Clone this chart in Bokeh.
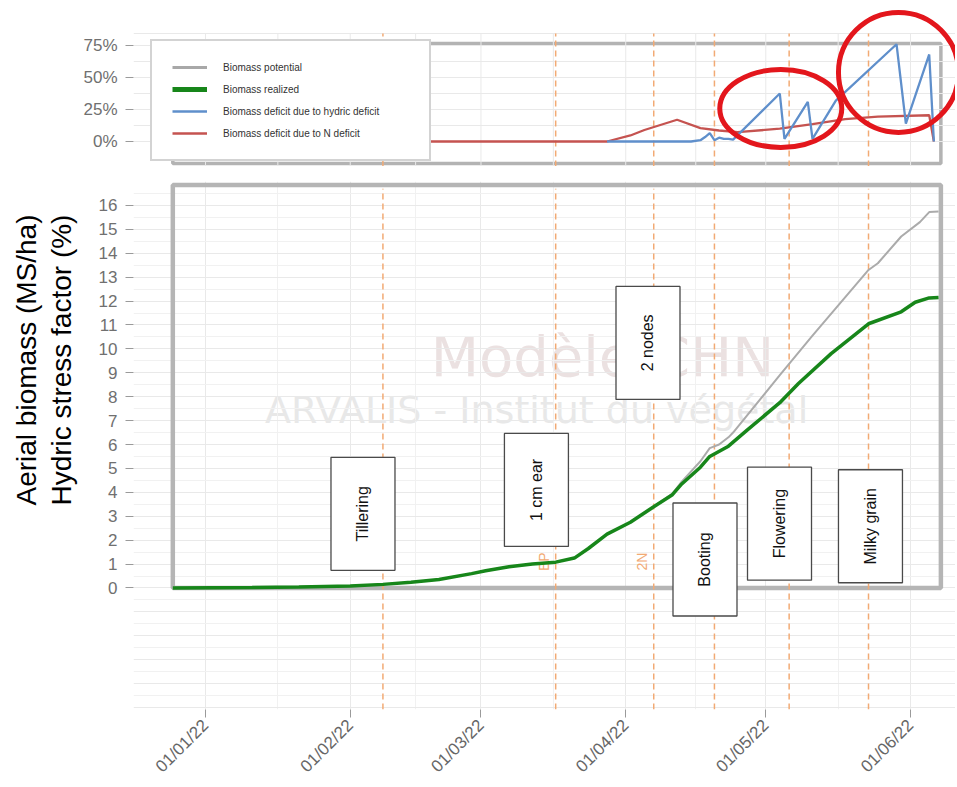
from math import pi
import pandas as pd
from bokeh.plotting import figure
from bokeh.layouts import column
from bokeh.models import (Range1d, FixedTicker, NumeralTickFormatter, DatetimeTickFormatter,
                          BoxAnnotation, Legend, LegendItem, Title)
from bokeh.core.properties import value
from bokeh.embed import file_html
from bokeh.resources import INLINE

# ---------------- data ----------------
realized_dates = ["2021-12-25", "2022-01-11", "2022-01-21", "2022-02-01", "2022-02-08", "2022-02-14",
                  "2022-02-20", "2022-02-27", "2022-03-02", "2022-03-07", "2022-03-12", "2022-03-17",
                  "2022-03-21", "2022-03-24", "2022-03-28", "2022-04-02", "2022-04-07", "2022-04-11",
                  "2022-04-13", "2022-04-17", "2022-04-19", "2022-04-23", "2022-04-27", "2022-05-04",
                  "2022-05-08", "2022-05-15", "2022-05-23", "2022-05-30", "2022-06-02", "2022-06-05",
                  "2022-06-07"]
realized = [0.0, 0.02, 0.04, 0.08, 0.15, 0.24, 0.35, 0.6, 0.72, 0.89, 1.0, 1.08, 1.25, 1.65, 2.25,
            2.75, 3.4, 3.9, 4.35, 5.05, 5.5, 5.93, 6.6, 7.75, 8.55, 9.8, 11.05, 11.55, 11.95, 12.13,
            12.15]

potential_dates = ["2021-12-25", "2022-01-11", "2022-01-21", "2022-02-01", "2022-02-08", "2022-02-14",
                   "2022-02-20", "2022-02-27", "2022-03-02", "2022-03-07", "2022-03-12", "2022-03-17",
                   "2022-03-21", "2022-03-24", "2022-03-28", "2022-04-02", "2022-04-07", "2022-04-11",
                   "2022-04-13", "2022-04-17", "2022-04-19", "2022-04-21", "2022-04-23", "2022-04-24",
                   "2022-05-04", "2022-05-11", "2022-05-23", "2022-05-25", "2022-05-30", "2022-06-03",
                   "2022-06-05", "2022-06-07"]
potential = [0.0, 0.02, 0.04, 0.08, 0.15, 0.24, 0.35, 0.6, 0.72, 0.89, 1.0, 1.08, 1.25, 1.65, 2.25,
             2.75, 3.4, 3.95, 4.45, 5.3, 5.85, 6.0, 6.3, 6.5, 8.9, 10.55, 13.3, 13.58, 14.7, 15.3,
             15.72, 15.75]

hydric_dates = ["2022-03-28", "2022-04-15", "2022-04-17", "2022-04-18", "2022-04-19", "2022-04-20",
                "2022-04-21", "2022-04-22", "2022-04-23", "2022-04-24", "2022-05-04", "2022-05-05",
                "2022-05-10", "2022-05-11", "2022-05-16", "2022-05-29", "2022-05-31", "2022-06-05",
                "2022-06-06"]
hydric_deficit = [0.0, 0.0, 0.01, 0.035, 0.065, 0.01, 0.03, 0.02, 0.02, 0.015, 0.375, 0.02, 0.31,
                  0.02, 0.32, 0.76, 0.14, 0.68, 0.0]

n_dates = ["2021-12-25", "2022-03-28", "2022-04-02", "2022-04-05", "2022-04-12", "2022-04-17",
           "2022-04-21", "2022-04-25", "2022-05-04", "2022-05-11", "2022-05-18", "2022-05-25",
           "2022-06-05", "2022-06-06"]
n_deficit = [0.0, 0.0, 0.047, 0.09, 0.17, 0.105, 0.086, 0.073, 0.10, 0.135, 0.175, 0.195, 0.205, 0.0]

stage_dates = ["2022-02-08", "2022-03-17", "2022-04-07", "2022-04-20", "2022-05-06", "2022-05-23"]
stage_names = ["Tillering", "1 cm ear", "2 nodes", "Booting", "Flowering", "Milky grain"]
stage_label_dates = ["2022-02-03 17:30", "2022-03-12 21:00", "2022-04-05 18:30", "2022-04-17 23:30",
                     "2022-05-03 22:30", "2022-05-23 10:00"]
stage_label_y = [3.10, 4.10, 10.25, 1.19, 2.69, 2.58]
stage_codes = ["EP", "2N"]
stage_code_dates = ["2022-03-17", "2022-04-07"]
stage_code_y = [1.1, 1.1]

month_ticks = ["2022-01-01", "2022-02-01", "2022-03-01", "2022-04-01", "2022-05-01", "2022-06-01"]
biomass_ticks = list(range(0, 17))
pct_ticks = [0, 0.25, 0.5, 0.75]

circle_dates = ["2022-05-04 05:00", "2022-05-29 10:00"]
circle_y = [0.258, 0.54]

# ---------------- helpers ----------------
def ms(dates):
    return [int(pd.Timestamp(d).value // 10**6) for d in dates]

def dt(dates):
    return [pd.Timestamp(d).to_pydatetime() for d in dates]

jan1 = pd.Timestamp("2022-01-01")
x_start = (jan1 - pd.Timedelta(days=15.42)).to_pydatetime()
x_end = (jan1 + pd.Timedelta(days=160.63)).to_pydatetime()
xr = Range1d(start=x_start, end=x_end)

frame_left = pd.Timestamp("2021-12-25").to_pydatetime()
frame_right = pd.Timestamp("2022-06-07 12:00").to_pydatetime()

month_ms = ms(month_ticks)
mid_ms = [(a + b) // 2 for a, b in zip(month_ms[:-1], month_ms[1:])]

GRID = "#e9e9e9"
GRID_MINOR = "#f1f1f1"
ORANGE = "#f2aa74"
LABEL_FONT = "Liberation Sans"
W = 955

# ---------------- top figure ----------------
p1 = figure(width=W, height=166, x_range=xr, y_range=Range1d(-0.1953, 1.1016),
            x_axis_type="datetime", x_axis_location=None,
            output_backend="svg", toolbar_location=None,
            min_border_left=133, min_border_right=0, min_border_top=0, min_border_bottom=0)
p1.grid.visible = False
p1.outline_line_color = None
p1.background_fill_color = "white"
p1.border_fill_color = "white"

g_top = 0.84375
g_bot = -0.1953
vx = month_ms + mid_ms
p1.segment(x0=vx, y0=[g_bot] * len(vx), x1=vx, y1=[g_top] * len(vx), line_color=GRID, line_width=1)
hy = [0, 0.125, 0.25, 0.375, 0.5, 0.625, 0.75, g_top]
p1.segment(x0=[x_start] * len(hy), y0=hy, x1=[x_end] * len(hy), y1=hy, line_color=GRID, line_width=1)

sd = dt(stage_dates)
p1.segment(x0=sd, y0=[g_bot] * len(sd), x1=sd, y1=[g_top] * len(sd),
           line_color=ORANGE, line_width=1.5, line_dash="6 4")

p1.add_layout(BoxAnnotation(left=frame_left, right=frame_right, bottom=-0.1719, top=0.7656,
                            fill_color=None, line_color="#b3b3b3", line_alpha=1.0, line_width=3.5,
                            level="underlay"))

r_red = p1.line(x=dt(n_dates), y=n_deficit, line_color="#c55350", line_width=2.3)
r_blue = p1.line(x=dt(hydric_dates), y=hydric_deficit, line_color="#5f8fcb", line_width=2.3)
nan = float("nan")
r_gray_dummy = p1.line(x=[x_start, x_end], y=[nan, nan], line_color="#a8a8a8", line_width=3)
r_green_dummy = p1.line(x=[x_start, x_end], y=[nan, nan], line_color="#17861a", line_width=5)

p1.ellipse(x=dt(circle_dates), y=circle_y, width=[122, 120], height=[78, 120],
           width_units="screen", height_units="screen",
           fill_color=None, line_color="#e3161c", line_width=5)

legend = Legend(items=[LegendItem(label="Biomass potential", renderers=[r_gray_dummy]),
                       LegendItem(label="Biomass realized", renderers=[r_green_dummy]),
                       LegendItem(label="Biomass deficit due to hydric deficit", renderers=[r_blue]),
                       LegendItem(label="Biomass deficit due to N deficit", renderers=[r_red])],
                location=(17, 5), orientation="vertical", padding=20, spacing=10, margin=0,
                glyph_width=35, glyph_height=12, label_standoff=16, label_width=186,
                label_height=12, label_text_font_size="10px", label_text_font=LABEL_FONT,
                label_text_color="#333333", border_line_color="#a8a8a8", border_line_width=2,
                background_fill_color="white", background_fill_alpha=1.0)
p1.add_layout(legend)

p1.yaxis.ticker = FixedTicker(ticks=pct_ticks)
p1.yaxis.formatter = NumeralTickFormatter(format="0%")
p1.yaxis.axis_line_color = None
p1.yaxis.major_tick_out = 8
p1.yaxis.major_tick_in = 0
p1.yaxis.major_tick_line_color = "#9a9a9a"
p1.yaxis.minor_tick_line_color = None
p1.yaxis.major_label_standoff = 8
p1.yaxis.major_label_text_font = LABEL_FONT
p1.yaxis.major_label_text_font_size = "17px"
p1.yaxis.major_label_text_color = "#707070"

# ---------------- bottom figure ----------------
p2 = figure(width=W, height=619, x_range=xr, y_range=Range1d(-5.0833, 17.0),
            x_axis_type="datetime", output_backend="svg", toolbar_location=None,
            min_border_left=133, min_border_right=0, min_border_top=15, min_border_bottom=74)
p2.outline_line_color = None
p2.background_fill_color = "white"
p2.border_fill_color = "white"

p2.xgrid.ticker = FixedTicker(ticks=month_ms, minor_ticks=mid_ms)
p2.xgrid.grid_line_color = GRID
p2.xgrid.minor_grid_line_color = GRID_MINOR
p2.ygrid.ticker = FixedTicker(ticks=list(range(-5, 18)), minor_ticks=[k + 0.5 for k in range(-6, 17)])
p2.ygrid.grid_line_color = GRID
p2.ygrid.minor_grid_line_color = GRID_MINOR

# watermark
p2.text(x=dt(["2022-03-27"]), y=[9.67], text=["Modèle CHN"], text_align="center",
        text_baseline="middle", text_font=value("DejaVu Sans"), text_font_size="56px",
        text_color="#ebe1e1", level="underlay")
p2.text(x=dt(["2022-03-12 22:00"]), y=[7.46], text=["ARVALIS - Institut du végétal"],
        text_align="center", text_baseline="middle", text_font=value("DejaVu Sans"),
        text_font_size="38px", text_color="#e8e8e8", level="underlay")

p2.add_layout(BoxAnnotation(left=frame_left, right=frame_right, bottom=0, top=16.85,
                            fill_color=None, line_color="#b5b5b5", line_alpha=1.0, line_width=4.5,
                            level="underlay"))

p2.segment(x0=sd, y0=[-5.0833] * len(sd), x1=sd, y1=[16.7] * len(sd),
           line_color=ORANGE, line_width=1.5, line_dash="6 4")

p2.text(x=dt(stage_code_dates), y=stage_code_y, text=stage_codes, angle=pi / 2, x_offset=-12,
        text_align="center", text_baseline="middle", text_font=value(LABEL_FONT),
        text_font_size="14px", text_color=ORANGE)

p2.line(x=dt(potential_dates), y=potential, line_color="#ababab", line_width=2)
p2.line(x=dt(realized_dates), y=realized, line_color="#17861a", line_width=3.5)

p2.rect(x=dt(stage_label_dates), y=stage_label_y, width=64, height=113,
        width_units="screen", height_units="screen",
        fill_color="white", line_color="#4a4a4a", line_width=1.3)
p2.text(x=dt(stage_label_dates), y=stage_label_y, text=stage_names, angle=pi / 2,
        text_align="center", text_baseline="middle", text_font=value(LABEL_FONT),
        text_font_size="16px", text_color="#111111")

p2.yaxis.ticker = FixedTicker(ticks=biomass_ticks)
p2.yaxis.axis_line_color = None
p2.yaxis.major_tick_out = 8
p2.yaxis.major_tick_in = 0
p2.yaxis.major_tick_line_color = "#9a9a9a"
p2.yaxis.minor_tick_line_color = None
p2.yaxis.major_label_standoff = 8
p2.yaxis.major_label_text_font = LABEL_FONT
p2.yaxis.major_label_text_font_size = "17px"
p2.yaxis.major_label_text_color = "#707070"
# blank axis label used only as a spacer between tick labels and the title block
p2.yaxis.axis_label = " "
p2.yaxis.axis_label_standoff = 5
p2.yaxis.axis_label_text_font_size = "2px"

p2.xaxis.ticker = FixedTicker(ticks=month_ms)
p2.xaxis.formatter = DatetimeTickFormatter(days="%d/%m/%y", months="%d/%m/%y", years="%d/%m/%y")
p2.xaxis.major_label_orientation = pi / 4
p2.xaxis.axis_line_color = None
p2.xaxis.major_tick_out = 8
p2.xaxis.major_tick_in = 0
p2.xaxis.major_tick_line_color = "#9a9a9a"
p2.xaxis.minor_tick_line_color = None
p2.xaxis.major_label_standoff = 5
p2.xaxis.major_label_text_font = LABEL_FONT
p2.xaxis.major_label_text_font_size = "17px"
p2.xaxis.major_label_text_color = "#666666"

y_title = Title(text="Aerial biomass (MS/ha)\nHydric stress factor (%)", align="left", offset=204,
                standoff=16, text_font=LABEL_FONT, text_font_size="28px", text_font_style="normal",
                text_line_height=1.15, text_color="#000000")
p2.add_layout(y_title, "left")

layout = column(p1, p2, spacing=0)
open("out.html", "w").write(file_html(layout, INLINE))
